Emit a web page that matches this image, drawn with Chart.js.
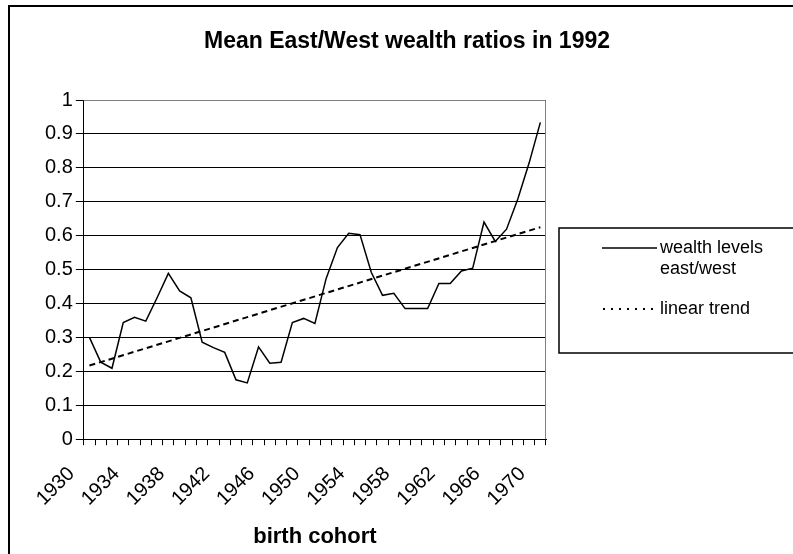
<!DOCTYPE html>
<html>
<head>
<meta charset="utf-8">
<script src="https://cdn.jsdelivr.net/npm/chart.js@4/dist/chart.umd.min.js"></script>
<style>
  html, body { margin: 0; padding: 0; background: #fff; overflow: hidden; }
  canvas { display: block; }
</style>
</head>
<body>
<canvas id="c" width="793" height="554"></canvas>
<script>
/* ── DATA ── */
var chartTitle = 'Mean East/West wealth ratios in 1992';
var xTitle = 'birth cohort';

var years = ['1930','1931','1932','1933','1934','1935','1936','1937','1938','1939',
  '1940','1941','1942','1943','1944','1945','1946','1947','1948','1949',
  '1950','1951','1952','1953','1954','1955','1956','1957','1958','1959',
  '1960','1961','1962','1963','1964','1965','1966','1967','1968','1969','1970'];

var wealthRatio = [0.300, 0.227, 0.209, 0.344, 0.359, 0.348, 0.417, 0.489, 0.437, 0.417,
  0.286, 0.270, 0.256, 0.175, 0.166, 0.272, 0.224, 0.227, 0.344, 0.356,
  0.341, 0.474, 0.565, 0.607, 0.603, 0.492, 0.424, 0.430, 0.385, 0.385,
  0.385, 0.459, 0.459, 0.496, 0.504, 0.640, 0.583, 0.619, 0.708, 0.814, 0.934];

// linear trend: at its two ends
var trendYears = ['1930', '1970'];
var trendValues = [0.217, 0.625];

var yTicks = [0, 0.1, 0.2, 0.3, 0.4, 0.5, 0.6, 0.7, 0.8, 0.9, 1];

var FONT = "Arial, 'Liberation Sans', sans-serif";

/* ── Frame, title and legend drawn around the chart ── */
var framePlugin = {
  id: 'frame',
  beforeDraw: function(chart){
    var ctx = chart.ctx;
    ctx.save();
    ctx.strokeStyle = '#000';
    ctx.lineWidth = 2;
    ctx.beginPath();
    ctx.moveTo(9, 560);
    ctx.lineTo(9, 6);
    ctx.lineTo(800, 6);
    ctx.stroke();
    ctx.restore();
  },
  afterDraw: function(chart){
    var ctx = chart.ctx;
    var a = chart.chartArea;
    ctx.save();

    // plot area border (top + right, grey)
    ctx.strokeStyle = '#808080';
    ctx.lineWidth = 1;
    ctx.beginPath();
    ctx.moveTo(a.left, a.top + 0.5);
    ctx.lineTo(a.right - 0.5, a.top + 0.5);
    ctx.lineTo(a.right - 0.5, a.bottom);
    ctx.stroke();

    // title
    ctx.fillStyle = '#000';
    ctx.font = 'bold 23px ' + FONT;
    ctx.textAlign = 'center';
    ctx.textBaseline = 'middle';
    ctx.fillText(chartTitle, 407, 42);

    // legend box
    ctx.strokeStyle = '#000';
    ctx.lineWidth = 1.5;
    ctx.strokeRect(559, 228, 260, 125);

    var ds = chart.data.datasets;
    ctx.font = '18px ' + FONT;
    ctx.textAlign = 'left';
    ctx.lineWidth = 1.5;
    ctx.setLineDash([]);
    ctx.beginPath(); ctx.moveTo(602, 248); ctx.lineTo(657, 248); ctx.stroke();
    ctx.fillText(ds[0].label[0], 660, 248);
    ctx.fillText(ds[0].label[1], 660, 269);

    ctx.lineWidth = 2;
    ctx.setLineDash([2, 6]);
    ctx.beginPath(); ctx.moveTo(603, 309); ctx.lineTo(657, 309); ctx.stroke();
    ctx.setLineDash([]);
    ctx.fillText(ds[1].label, 660, 309);

    ctx.restore();
  }
};

var ctx = document.getElementById('c').getContext('2d');
new Chart(ctx, {
  type: 'line',
  data: {
    labels: years,
    datasets: [
      {
        label: ['wealth levels', 'east/west'],
        data: wealthRatio,
        borderColor: '#000',
        borderWidth: 1.5,
        pointRadius: 0,
        tension: 0,
        fill: false
      },
      {
        label: 'linear trend',
        data: trendYears.map(function(y, i){ return {x: y, y: trendValues[i]}; }),
        borderColor: '#000',
        borderWidth: 2,
        borderDash: [6, 4],
        pointRadius: 0,
        tension: 0,
        fill: false
      }
    ]
  },
  options: {
    responsive: false,
    animation: false,
    layout: { padding: { left: 42, right: 247, top: 100, bottom: 0 } },
    plugins: {
      legend: { display: false },
      title: { display: false },
      tooltip: { enabled: false }
    },
    scales: {
      x: {
        offset: true,
        grid: { display: true, drawOnChartArea: false, offset: true, tickLength: 6, color: '#000' },
        border: { display: true, color: '#000', width: 1 },
        ticks: {
          autoSkip: false,
          minRotation: 45,
          maxRotation: 45,
          padding: 17,
          labelOffset: -18,
          color: '#000',
          font: { family: FONT, size: 20 },
          callback: function(v, i){ return i % 4 === 0 ? years[i] : ''; }
        },
        title: {
          display: true,
          text: xTitle,
          color: '#000',
          font: { family: FONT, size: 22, weight: 'bold' },
          padding: { top: -4, bottom: 4 }
        }
      },
      y: {
        min: 0,
        max: 1,
        afterBuildTicks: function(axis){ axis.ticks = yTicks.map(function(v){ return {value: v}; }); },
        grid: { color: '#000', tickLength: 8, lineWidth: 1 },
        border: { display: true, color: '#000', width: 1 },
        ticks: {
          padding: 3,
          color: '#000',
          font: { family: FONT, size: 20 },
          callback: function(v){ return String(Math.round(v * 10) / 10); }
        }
      }
    }
  },
  plugins: [framePlugin]
});
</script>
</body>
</html>
